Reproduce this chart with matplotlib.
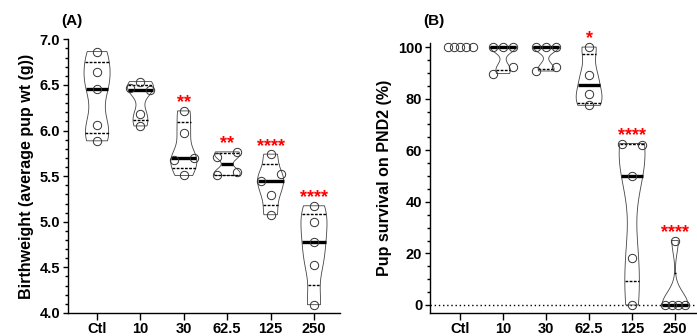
import numpy as np
import matplotlib.pyplot as plt
from matplotlib.ticker import MultipleLocator

plt.rcParams['font.family'] = ['Liberation Sans', 'DejaVu Sans']
plt.rcParams['font.weight'] = 'bold'
plt.rcParams['axes.labelweight'] = 'bold'

groups = ['Ctl', '10', '30', '62.5', '125', '250']

# Panel A: birthweight (g) per litter, in entry order
weight = [
    [6.865, 6.646, 6.453, 6.062, 5.887],
    [6.465, 6.536, 6.44, 6.18, 6.05],
    [6.215, 5.978, 5.68, 5.70, 5.507],
    [5.715, 5.766, 5.507, 5.55],
    [5.741, 5.442, 5.522, 5.296, 5.077],
    [5.175, 5.0, 4.774, 4.526, 4.091],
]
stars_a = ['', '', '**', '**', '****', '****']

# Panel B: pup survival on PND2 (%)
survival = [
    [100, 100, 100, 100, 100],
    [100, 100, 100, 89.7, 92.3],
    [100, 100, 100, 90.7, 92.3],
    [100, 89.0, 81.7, 77.4],
    [62.6, 62.0, 50.0, 18.3, 0],
    [25.0, 0, 0, 0, 0],
]
stars_b = ['', '', '', '*', '****', '****']

fig = plt.figure(figsize=(6.97, 3.36), dpi=100)
ax_a = fig.add_axes([68 / 697, 0.0685, 272 / 697, 0.8146])
ax_b = fig.add_axes([430 / 697, 0.0685, 267 / 697, 0.803])


def kde(vals, ys):
    v = np.asarray(vals, dtype=float)
    bw = 0.6 * v.std(ddof=1) * len(v) ** -0.2
    d = np.exp(-0.5 * ((ys[:, None] - v[None, :]) / bw) ** 2).sum(axis=1)
    return d / d.max()


def swarm(vals, px_y, diam=8.3):
    # group points that would overlap vertically, spread each group in a row
    order = np.argsort(vals)[::-1]
    offs = np.zeros(len(vals))
    clusters = []
    for i in order:
        if clusters and abs(vals[clusters[-1][-1]] - vals[i]) * px_y < diam:
            clusters[-1].append(i)
        else:
            clusters.append([i])
    for c in clusters:
        if len(c) > 1:
            spread = 20 if len(c) < 5 else 25
            c = sorted(c)
            for k, idx in enumerate(c):
                offs[idx] = -spread / 2 + k * spread / (len(c) - 1)
    return offs


def draw(ax, data, stars, ylim, xlim):
    ax.set_xlim(*xlim)
    ax.set_ylim(*ylim)
    bb = ax.get_window_extent()
    px_y = bb.height / (ylim[1] - ylim[0])
    px_x = bb.width / (xlim[1] - xlim[0])
    for i, vals in enumerate(data):
        vals = np.asarray(vals, dtype=float)
        if vals.std() > 0:
            ys = np.linspace(vals.min(), vals.max(), 300)
            w = 0.3 * kde(vals, ys)
            xs = np.concatenate([i - w, (i + w)[::-1]])
            yy = np.concatenate([ys, ys[::-1]])
            ax.fill(xs, yy, facecolor='none', edgecolor='#444444', lw=0.6, zorder=2)
            q1, med, q3 = np.percentile(vals, [25, 50, 75], method='weibull')
            for q in (q1, q3):
                wq = np.interp(q, ys, w)
                ax.plot([i - wq, i + wq], [q, q], color='black', lw=1.0,
                        ls=(0, (2, 1)), zorder=3)
            wm = np.interp(med, ys, w)
            ax.plot([i - wm, i + wm], [med, med], color='black', lw=2.4,
                    solid_capstyle='butt', zorder=4)
        offs = swarm(vals, px_y) / px_x
        ax.plot(i + offs, vals, 'o', ms=6, mfc='none', mec='#333333', mew=0.7,
                zorder=5, clip_on=False)
        if stars[i]:
            ax.annotate(stars[i], (i, vals.max()), xytext=(0, 2.5),
                        textcoords='offset points', ha='center', va='baseline',
                        color='red', fontsize=13, annotation_clip=False)
    ax.set_xticks(range(len(groups)))
    ax.set_xticklabels(groups, fontsize=10.5)
    ax.spines['top'].set_visible(False)
    ax.spines['right'].set_visible(False)
    for s in ('left', 'bottom'):
        ax.spines[s].set_linewidth(1.0)
    ax.tick_params(axis='x', length=4.8, width=1.0, pad=2)
    ax.tick_params(axis='y', which='major', length=3.6, width=1.0, labelsize=10.5, pad=2)
    ax.tick_params(axis='y', which='minor', length=2.2, width=1.0)


draw(ax_a, weight, stars_a, (4.0, 7.0), (-0.67, 5.6))
ax_a.yaxis.set_major_locator(MultipleLocator(0.5))
ax_a.yaxis.set_minor_locator(MultipleLocator(0.1))
ax_a.yaxis.set_major_formatter(plt.FormatStrFormatter('%.1f'))
ax_a.set_ylabel('Birthweight (average pup wt (g))', fontsize=11.5, labelpad=4)

draw(ax_b, survival, stars_b, (-3.1, 101.5), (-0.7, 5.51))
ax_b.axhline(0, color='black', lw=1.0, ls=(0, (1, 2)), zorder=1)
ax_b.yaxis.set_major_locator(MultipleLocator(20))
ax_b.yaxis.set_minor_locator(MultipleLocator(5))
ax_b.set_ylabel('Pup survival on PND2 (%)', fontsize=11.5, labelpad=4)

fig.text(72 / 697, 1 - 21 / 336, '(A)', ha='center', va='center', fontsize=11)
fig.text(434 / 697, 1 - 21 / 336, '(B)', ha='center', va='center', fontsize=11)

fig.savefig('out.png', dpi=100)
